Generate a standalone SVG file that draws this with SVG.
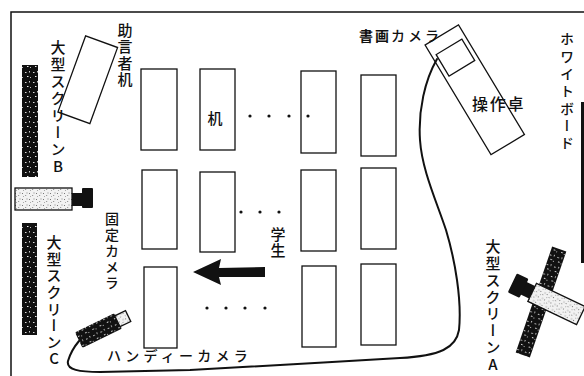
<svg xmlns="http://www.w3.org/2000/svg" width="584" height="376" viewBox="0 0 584 376">
  <defs>
    <!-- dark screen surface with light grain -->
    <pattern id="darkGrain" width="8" height="10" patternUnits="userSpaceOnUse">
      <rect width="8" height="10" fill="#111"/>
      <rect x="1" y="2" width="1.5" height="1" fill="#ddd"/>
      <rect x="5" y="1" width="1" height="1.5" fill="#ccc"/>
      <rect x="3" y="6" width="1.5" height="1" fill="#eee"/>
      <rect x="6" y="7" width="1" height="1" fill="#bbb"/>
    </pattern>
    <!-- light projector body with dark grain -->
    <pattern id="lightGrain" width="7" height="6" patternUnits="userSpaceOnUse">
      <rect width="7" height="6" fill="#f2f2f2"/>
      <rect x="1" y="1" width="1" height="1" fill="#777"/>
      <rect x="4" y="3" width="1.2" height="1" fill="#999"/>
      <rect x="2" y="4" width="1" height="1" fill="#aaa"/>
      <rect x="5.5" y="0.5" width="1" height="1" fill="#888"/>
    </pattern>
    <style>
      .frame { stroke: #111; stroke-width: 1.5; fill: none; }
      .desk { fill: #fff; stroke: #111; stroke-width: 1.3; }
      .outline { fill: none; stroke: #111; stroke-width: 1.3; }
      .screen { fill: url(#darkGrain); }
      .body { fill: url(#lightGrain); stroke: #111; stroke-width: 1.3; }
      .solid { fill: #111; }
      .dot { fill: #111; }
      .cable { fill: none; stroke: #111; stroke-width: 2; stroke-linecap: round; }
      .t { font-family: "Noto Sans CJK JP", "Noto Sans", sans-serif; fill: #111; font-weight: 500; }
      .v { writing-mode: vertical-rl; text-orientation: upright; }
    </style>
  </defs>

  <rect width="584" height="376" fill="#fff"/>

  <!-- room walls -->
  <path class="frame" d="M11,376 V12 H584"/>

  <!-- whiteboard -->
  <g id="whiteboard">
    <rect x="581" y="102" width="4" height="161" class="solid"/>
    <text class="t v" x="567" y="32" font-size="14" letter-spacing="3.3">ホワイトボード</text>
  </g>

  <!-- screen B -->
  <g id="screenB">
    <rect x="22" y="65" width="16" height="112" class="screen"/>
    <text class="t v" x="58" y="40" font-size="15" letter-spacing="2">大型スクリーンB</text>
  </g>

  <!-- fixed projector -->
  <g id="projector-fixed">
    <rect x="15" y="188" width="57" height="22" class="body"/>
    <rect x="72" y="193" width="11" height="13" class="solid"/>
    <rect x="82" y="188" width="11" height="20" rx="1" class="solid"/>
  </g>

  <!-- screen C -->
  <g id="screenC">
    <rect x="22" y="223" width="15" height="112" class="screen"/>
    <text class="t v" x="54" y="235" font-size="15" letter-spacing="1.6">大型スクリーンC</text>
  </g>

  <!-- fixed camera label -->
  <g id="fixed-camera">
    <text class="t v" x="112" y="212" font-size="14" letter-spacing="2">固定カメラ</text>
  </g>

  <!-- advisor desk -->
  <g id="advisor-desk">
    <rect x="-17" y="-40.5" width="34" height="81" class="outline" transform="translate(87.75,79.75) rotate(20)"/>
    <text class="t v" x="125" y="23" font-size="15" letter-spacing="1.25">助言者机</text>
  </g>

  <!-- student desks -->
  <g id="desks">
    <rect x="141" y="69" width="36" height="81" class="desk"/>
    <rect x="142" y="170" width="35" height="79" class="desk"/>
    <rect x="144" y="267" width="33" height="81" class="desk"/>
    <rect x="200" y="69" width="35" height="81" class="desk"/>
    <rect x="200" y="172" width="35" height="80" class="desk"/>
    <rect x="301" y="71" width="35" height="82" class="desk"/>
    <rect x="301" y="170" width="35" height="81" class="desk"/>
    <rect x="302" y="266" width="34" height="81" class="desk"/>
    <rect x="361" y="75" width="35" height="81" class="desk"/>
    <rect x="361" y="168" width="35" height="81" class="desk"/>
    <rect x="361" y="264" width="35" height="81" class="desk"/>
    <text class="t" x="215" y="124" font-size="15" text-anchor="middle">机</text>
  </g>

  <!-- continuation dots -->
  <g id="dots">
    <circle class="dot" cx="250" cy="116" r="1.6"/>
    <circle class="dot" cx="269" cy="116" r="1.6"/>
    <circle class="dot" cx="289" cy="116" r="1.6"/>
    <circle class="dot" cx="308" cy="116" r="1.6"/>
    <circle class="dot" cx="241" cy="212" r="1.6"/>
    <circle class="dot" cx="260" cy="212" r="1.6"/>
    <circle class="dot" cx="279" cy="212" r="1.6"/>
    <circle class="dot" cx="207" cy="308" r="1.6"/>
    <circle class="dot" cx="226" cy="308" r="1.6"/>
    <circle class="dot" cx="245" cy="308" r="1.6"/>
    <circle class="dot" cx="265" cy="308" r="1.6"/>
  </g>

  <!-- students label and facing arrow -->
  <g id="students">
    <text class="t v" x="278" y="227" font-size="15" letter-spacing="0.5">学生</text>
    <polygon class="solid" points="193,272 221,259 219,268 265,267 265,277 219,277 221,285"/>
  </g>

  <!-- control console with document camera -->
  <g id="console">
    <g transform="translate(474.75,89.75) rotate(-31)">
      <rect x="-19.5" y="-64" width="39" height="128" class="outline"/>
      <rect x="-15" y="-50" width="30" height="25" class="outline"/>
    </g>
    <text class="t" x="472" y="110" font-size="16" letter-spacing="1.7">操作卓</text>
    <text class="t" x="359" y="41" font-size="14"><tspan font-weight="bold" letter-spacing="2">書画</tspan><tspan letter-spacing="3">カメラ</tspan></text>
  </g>

  <!-- screen A with projector -->
  <g id="screenA">
    <rect x="-7.5" y="-56" width="15" height="112" class="screen" transform="translate(541,302) rotate(19)"/>
    <g transform="translate(556.5,304) rotate(25.6)">
      <rect x="-37" y="-7" width="11" height="14" class="solid"/>
      <rect x="-49" y="-10.5" width="13" height="21" rx="1.5" class="solid"/>
      <rect x="-27" y="-10" width="54" height="20" class="body"/>
    </g>
    <text class="t v" x="493" y="239" font-size="15" letter-spacing="1.8">大型スクリーンA</text>
  </g>

  <!-- handheld camera -->
  <g id="handy-camera">
    <g transform="translate(98.5,330.5) rotate(-26)">
      <rect x="-22" y="-8.5" width="44" height="17" rx="1.5" class="screen"/>
      <rect x="21" y="-6" width="12" height="12" class="body"/>
    </g>
    <text class="t" x="107" y="361" font-size="14" letter-spacing="4.25">ハンディーカメラ</text>
  </g>

  <!-- connectors -->
  <g id="connectors">
    <path class="cable" d="M437,59 C425,80 418,110 420,140 C422,170 436,200 446,230 C455,260 462,300 459,330 C456,348 440,356 400,358 C330,362 250,367 190,370 L100,372 C80,372 66,370 68,361 C70,354 74,347 79,341"/>
  </g>
</svg>
